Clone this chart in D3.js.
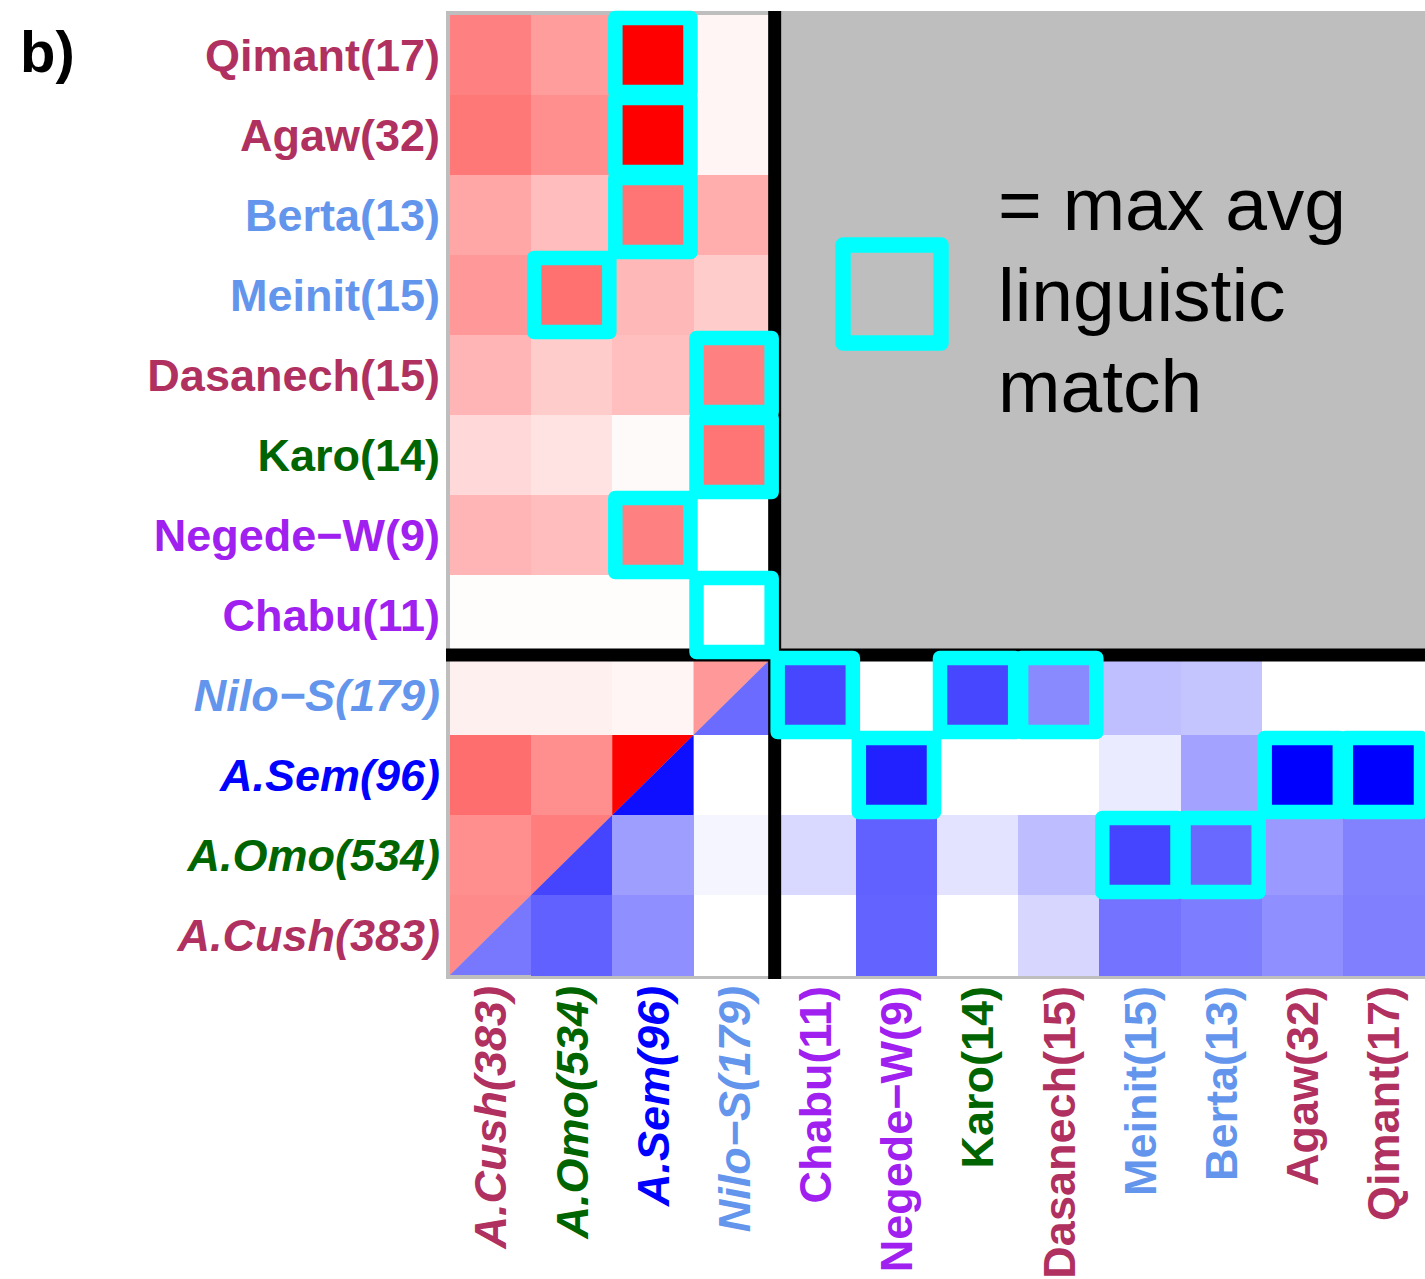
<!DOCTYPE html>
<html>
<head>
<meta charset="utf-8">
<script src="https://cdn.jsdelivr.net/npm/d3@7"></script>
<style>
  html, body { margin: 0; padding: 0; background: #ffffff; }
  svg { display: block; font-family: "Liberation Sans", Arial, Helvetica, sans-serif; }
</style>
</head>
<body>
<svg id="chart" width="1425" height="1279"></svg>
<script>
// Population groups, top to bottom (rows)
const rowLabels = ["Qimant(17)", "Agaw(32)", "Berta(13)", "Meinit(15)", "Dasanech(15)",
  "Karo(14)", "Negede\u2212W(9)", "Chabu(11)", "Nilo\u2212S(179)", "A.Sem(96)", "A.Omo(534)", "A.Cush(383)"];
// Population groups, left to right (columns)
const colLabels = ["A.Cush(383)", "A.Omo(534)", "A.Sem(96)", "Nilo\u2212S(179)", "Chabu(11)",
  "Negede\u2212W(9)", "Karo(14)", "Dasanech(15)", "Meinit(15)", "Berta(13)", "Agaw(32)", "Qimant(17)"];
// Rows drawn in italics (the four large reference groups)
const italicLabels = ["Nilo\u2212S(179)", "A.Sem(96)", "A.Omo(534)", "A.Cush(383)"];
// Label colour by linguistic family
const labelColor = {
  "Qimant(17)": "#B03060", "Agaw(32)": "#B03060", "Dasanech(15)": "#B03060", "A.Cush(383)": "#B03060",
  "Berta(13)": "#6495ED", "Meinit(15)": "#6495ED", "Nilo\u2212S(179)": "#6495ED",
  "Karo(14)": "#006400", "A.Omo(534)": "#006400",
  "Negede\u2212W(9)": "#A020F0", "Chabu(11)": "#A020F0",
  "A.Sem(96)": "#0000FF"
};

// Red share: every row against the four reference columns (A.Cush, A.Omo, A.Sem, Nilo-S)
const redShare = [
  [0.50, 0.39, 1.00, 0.04],
  [0.53, 0.44, 1.00, 0.04],
  [0.35, 0.26, 0.54, 0.32],
  [0.40, 0.56, 0.28, 0.20],
  [0.29, 0.20, 0.25, 0.50],
  [0.15, 0.11, 0.02, 0.54],
  [0.29, 0.26, 0.50, 0.00],
  [0.01, 0.01, 0.01, 0.00],
  [0.06, 0.06, 0.04, 0.40],
  [0.57, 0.44, 1.00, null],
  [0.44, 0.51, null, null],
  [0.46, null, null, null]
];
// Blue share: the four reference rows (Nilo-S, A.Sem, A.Omo, A.Cush) against all columns
const blueRows = ["Nilo\u2212S(179)", "A.Sem(96)", "A.Omo(534)", "A.Cush(383)"];
const blueShare = [
  [null, null, null, 0.58, 0.72, 0.00, 0.72, 0.46, 0.25, 0.23, 0.00, 0.00],
  [null, null, 0.94, 0.00, 0.00, 0.87, 0.00, 0.00, 0.08, 0.36, 1.00, 1.00],
  [null, 0.73, 0.38, 0.04, 0.15, 0.62, 0.11, 0.26, 0.73, 0.59, 0.40, 0.49],
  [0.53, 0.62, 0.44, 0.00, 0.00, 0.61, 0.00, 0.16, 0.55, 0.51, 0.44, 0.50]
];
// Cells with the maximum average linguistic match [row, column]
const maxMatch = [
  ["Qimant(17)", "A.Sem(96)"], ["Agaw(32)", "A.Sem(96)"], ["Berta(13)", "A.Sem(96)"],
  ["Meinit(15)", "A.Omo(534)"], ["Dasanech(15)", "Nilo\u2212S(179)"], ["Karo(14)", "Nilo\u2212S(179)"],
  ["Negede\u2212W(9)", "A.Sem(96)"], ["Chabu(11)", "Nilo\u2212S(179)"],
  ["Nilo\u2212S(179)", "Chabu(11)"], ["Nilo\u2212S(179)", "Karo(14)"], ["Nilo\u2212S(179)", "Dasanech(15)"],
  ["A.Sem(96)", "Negede\u2212W(9)"], ["A.Sem(96)", "Agaw(32)"], ["A.Sem(96)", "Qimant(17)"],
  ["A.Omo(534)", "Meinit(15)"], ["A.Omo(534)", "Berta(13)"]
];
const legendLines = ["= max avg", "linguistic", "match"];

const svg = d3.select("#chart");
const x = d3.scaleBand().domain(colLabels).range([450, 1424]);
const y = d3.scaleBand().domain(rowLabels).range([15, 975]);
const redColor = d3.interpolateRgb("#ffffff", "#ff0000");
const blueColor = d3.interpolateRgb("#ffffff", "#0000ff");

// Panel background
svg.append("rect").attr("x", 446).attr("y", 11).attr("width", 990).attr("height", 968).attr("fill", "#bebebe");

// Build cell list
const cells = [];
rowLabels.forEach((r, ri) => {
  colLabels.forEach((c, ci) => {
    const red = ci < 4 ? redShare[ri][ci] : null;
    const bi = blueRows.indexOf(r);
    const blue = bi >= 0 ? blueShare[bi][ci] : null;
    if (red !== null || blue !== null) cells.push({ r, c, red, blue });
  });
});

const cellG = svg.append("g").attr("shape-rendering", "crispEdges");
cells.forEach(d => {
  const x0 = x(d.c), y0 = y(d.r), w = x.bandwidth(), h = y.bandwidth();
  if (d.red !== null && d.blue !== null) {
    cellG.append("path")
      .attr("d", `M${x0},${y0}L${x0 + w},${y0}L${x0},${y0 + h}Z`)
      .attr("fill", redColor(d.red)).attr("shape-rendering", "auto");
    cellG.append("path")
      .attr("d", `M${x0 + w},${y0}L${x0 + w},${y0 + h}L${x0},${y0 + h}Z`)
      .attr("fill", blueColor(d.blue)).attr("shape-rendering", "auto");
  } else {
    cellG.append("rect")
      .attr("x", x0).attr("y", y0).attr("width", w + 0.5).attr("height", h + 0.5)
      .attr("fill", d.red !== null ? redColor(d.red) : blueColor(d.blue));
  }
});

// Dividers between reference and target groups
const xDiv = x("Chabu(11)");
const yDiv = y("Nilo\u2212S(179)");
svg.append("line").attr("x1", xDiv).attr("x2", xDiv).attr("y1", 11).attr("y2", 979)
  .attr("stroke", "#000").attr("stroke-width", 13);
svg.append("line").attr("x1", 446).attr("x2", 1436).attr("y1", yDiv).attr("y2", yDiv)
  .attr("stroke", "#000").attr("stroke-width", 13);

// Max-match highlight boxes
svg.append("g").selectAll("rect").data(maxMatch).join("rect")
  .attr("x", d => x(d[1]) + 3)
  .attr("y", d => y(d[0]) + 3)
  .attr("width", x.bandwidth() - 6)
  .attr("height", y.bandwidth() - 6)
  .attr("fill", "none")
  .attr("stroke", "#00ffff")
  .attr("stroke-width", 14.5)
  .attr("stroke-linejoin", "round");

// Row labels
svg.append("g").selectAll("text").data(rowLabels).join("text")
  .attr("x", 440)
  .attr("y", d => y(d) + y.bandwidth() / 2)
  .attr("dy", "0.35em")
  .attr("text-anchor", "end")
  .attr("font-size", 45)
  .attr("font-weight", "bold")
  .attr("font-style", d => italicLabels.includes(d) ? "italic" : "normal")
  .attr("fill", d => labelColor[d])
  .text(d => d);

// Column labels
svg.append("g").selectAll("text").data(colLabels).join("text")
  .attr("transform", d => `translate(${x(d) + x.bandwidth() / 2},986) rotate(-90)`)
  .attr("dy", "0.35em")
  .attr("text-anchor", "end")
  .attr("font-size", 45)
  .attr("font-weight", "bold")
  .attr("font-style", d => italicLabels.includes(d) ? "italic" : "normal")
  .attr("fill", d => labelColor[d])
  .text(d => d);

// Legend
svg.append("rect").attr("x", 843).attr("y", 245).attr("width", 98).attr("height", 98)
  .attr("fill", "none").attr("stroke", "#00ffff").attr("stroke-width", 15.5).attr("stroke-linejoin", "round");
svg.append("g").selectAll("text").data(legendLines).join("text")
  .attr("x", 998)
  .attr("y", (d, i) => 230 + i * 91)
  .attr("font-size", 75)
  .attr("fill", "#000")
  .text(d => d);

// Panel tag
svg.append("text").attr("x", 20).attr("y", 72).attr("font-size", 58).attr("font-weight", "bold")
  .attr("fill", "#000").text("b)");
</script>
</body>
</html>
